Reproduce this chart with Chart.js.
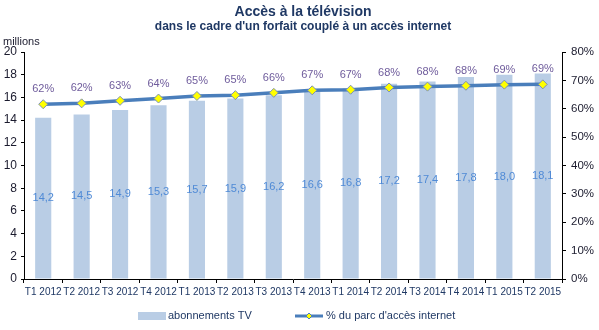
<!DOCTYPE html>
<html>
<head>
<meta charset="utf-8">
<script src="https://cdn.jsdelivr.net/npm/chart.js@4/dist/chart.umd.min.js"></script>
<style>
  html, body { margin: 0; padding: 0; background: #fff; }
  #wrap { width: 599px; height: 330px; }
</style>
</head>
<body>
<div id="wrap"><canvas id="tvChart"></canvas></div>
<script>
// Données
const trimestres = ['T1 2012', 'T2 2012', 'T3 2012', 'T4 2012', 'T1 2013', 'T2 2013', 'T3 2013',
                    'T4 2013', 'T1 2014', 'T2 2014', 'T3 2014', 'T4 2014', 'T1 2015', 'T2 2015'];
const abonnementsTV = [14.2, 14.5, 14.9, 15.3, 15.7, 15.9, 16.2, 16.6, 16.8, 17.2, 17.4, 17.8, 18.0, 18.1];
const partParc = [61.6, 61.9, 62.8, 63.6, 64.5, 64.8, 65.6, 66.5, 66.7, 67.5, 67.8, 68.1, 68.5, 68.6];
const ticksGauche = [0, 2, 4, 6, 8, 10, 12, 14, 16, 18, 20];
const ticksDroite = [0, 10, 20, 30, 40, 50, 60, 70, 80];

const navy = '#1f3864';
const barColor = '#b9cde5';
const lineColor = '#4a7ebb';
const police = '"Liberation Sans", Arial, sans-serif';

// Titres, étiquettes et légende dessinés à la main
const decor = {
    id: 'decor',
    afterDatasetsDraw(chart) {
        const ctx = chart.ctx;
        ctx.save();
        ctx.textBaseline = 'middle';

        // étiquettes des barres
        ctx.font = '11px ' + police;
        ctx.textAlign = 'center';
        ctx.fillStyle = '#4f8ad6';
        chart.getDatasetMeta(0).data.forEach((bar, i) => {
            const y = (bar.y + bar.base) / 2;
            ctx.fillText(abonnementsTV[i].toFixed(1).replace('.', ','), bar.x, y);
        });

        // étiquettes de la courbe
        ctx.fillStyle = '#6f5c9c';
        chart.getDatasetMeta(1).data.forEach((pt, i) => {
            ctx.fillText(Math.round(partParc[i]) + '%', pt.x, pt.y - 15);
        });
        ctx.restore();
    },
    afterDraw(chart) {
        const ctx = chart.ctx;
        ctx.save();
        ctx.textBaseline = 'middle';
        ctx.fillStyle = navy;
        ctx.textAlign = 'center';
        const cx = 303;
        ctx.font = 'bold 14px ' + police;
        ctx.fillText('Accès à la télévision', cx, 12);
        ctx.font = 'bold 12px ' + police;
        ctx.fillText("dans le cadre d'un forfait couplé à un accès internet", cx, 27);

        ctx.font = '11px ' + police;
        ctx.textAlign = 'left';
        ctx.fillStyle = '#1b1b2e';
        ctx.fillText('millions', 3, 42);

        // légende
        const ly = 316;
        ctx.fillStyle = barColor;
        ctx.fillRect(138, ly - 4, 28, 8);
        ctx.fillStyle = navy;
        ctx.fillText('abonnements TV', 168, ly);

        ctx.strokeStyle = lineColor;
        ctx.lineWidth = 3;
        ctx.beginPath();
        ctx.moveTo(295, ly);
        ctx.lineTo(323, ly);
        ctx.stroke();
        ctx.fillStyle = '#ffff00';
        ctx.lineWidth = 1;
        ctx.beginPath();
        ctx.moveTo(309, ly - 3);
        ctx.lineTo(312, ly);
        ctx.lineTo(309, ly + 3);
        ctx.lineTo(306, ly);
        ctx.closePath();
        ctx.fill();
        ctx.stroke();
        ctx.fillStyle = navy;
        ctx.fillText("% du parc d'accès internet", 326, ly);
        ctx.restore();
    }
};

const ctx = document.getElementById('tvChart').getContext('2d');
const tvChart = new Chart(ctx, {
    type: 'bar',
    data: {
        labels: trimestres,
        datasets: [{
            label: 'abonnements TV',
            data: abonnementsTV,
            backgroundColor: barColor,
            categoryPercentage: 1,
            barPercentage: 0.42,
            yAxisID: 'y',
            order: 2
        }, {
            type: 'line',
            label: "% du parc d'accès internet",
            data: partParc,
            borderColor: lineColor,
            borderWidth: 3.5,
            pointStyle: 'rectRot',
            pointRadius: 4.5,
            pointBackgroundColor: '#ffff00',
            pointBorderColor: '#7a8fb5',
            pointBorderWidth: 1,
            yAxisID: 'y1',
            order: 1
        }]
    },
    options: {
        responsive: true,
        maintainAspectRatio: false,
        animation: false,
        layout: { padding: { top: 52, left: 0, right: 0, bottom: 0 } },
        plugins: {
            legend: { display: false },
            title: { display: false },
            tooltip: { enabled: false }
        },
        scales: {
            x: {
                grid: { drawOnChartArea: false, color: '#000', tickLength: 4, offset: true },
                border: { color: '#000' },
                ticks: {
                    color: navy,
                    font: { family: police, size: 10 },
                    maxRotation: 0,
                    autoSkip: false,
                    padding: 3
                },
                afterFit(scale) { scale.height = 51; }
            },
            y: {
                position: 'left',
                min: 0,
                max: 20,
                afterBuildTicks(scale) { scale.ticks = ticksGauche.map(v => ({ value: v })); },
                grid: { drawOnChartArea: false, color: '#000', tickLength: 3 },
                border: { color: '#000' },
                ticks: {
                    color: '#1b1b2e',
                    font: { family: police, size: 12 },
                    padding: 4
                },
                afterFit(scale) { scale.width = 24; }
            },
            y1: {
                position: 'right',
                min: 0,
                max: 80,
                afterBuildTicks(scale) { scale.ticks = ticksDroite.map(v => ({ value: v })); },
                grid: { drawOnChartArea: false, color: '#000', tickLength: 4 },
                border: { color: '#000' },
                ticks: {
                    color: '#1b1b2e',
                    font: { family: police, size: 11.5 },
                    padding: 5,
                    callback: v => v + '%'
                },
                afterFit(scale) { scale.width = 37; }
            }
        }
    },
    plugins: [decor]
});
</script>
</body>
</html>
